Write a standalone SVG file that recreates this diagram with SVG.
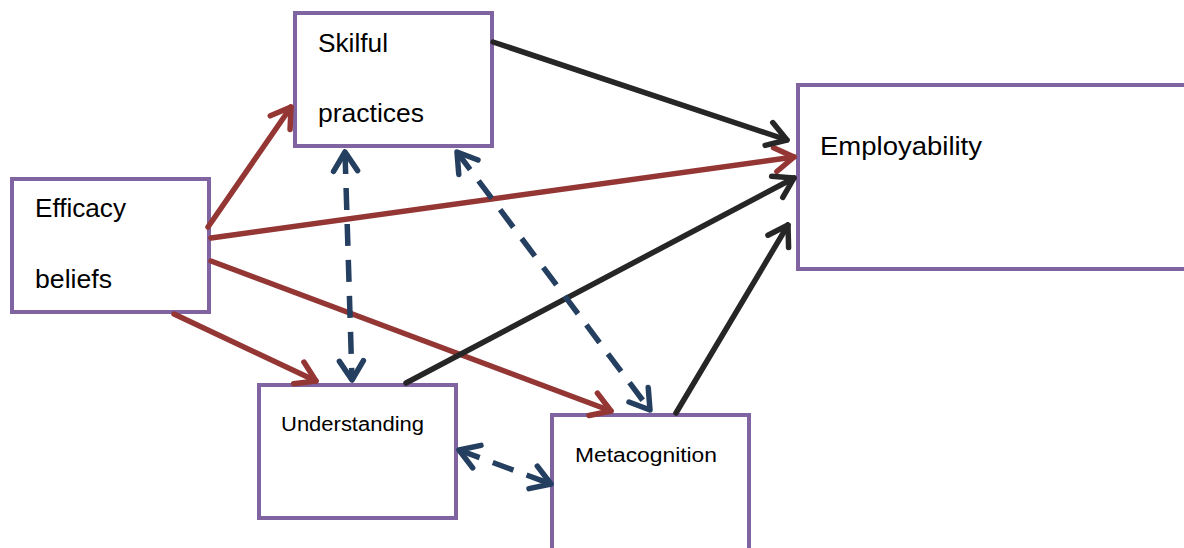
<svg xmlns="http://www.w3.org/2000/svg" width="1184" height="548" viewBox="0 0 1184 548">
  <style>
    .box { fill: #ffffff; stroke: #8064A2; stroke-width: 4; }
    .lbl { font-family: "Liberation Sans", "Open Sans", sans-serif; fill: #000000; }
    .big { font-size: 25px; }
    .small { font-size: 20px; }
    .red { stroke: #943634; stroke-width: 5.5; fill: none; stroke-linecap: round; marker-end: url(#hRed); }
    .blk { stroke: #262626; stroke-width: 5.5; fill: none; stroke-linecap: round; marker-end: url(#hBlk); }
    .blu { stroke: #243F60; stroke-width: 5.5; fill: none; stroke-dasharray: 22 14; marker-start: url(#hBlu); marker-end: url(#hBlu); }
  </style>
  <defs>
    <marker id="hRed" markerUnits="userSpaceOnUse" viewBox="-26 -18 32 36" refX="0" refY="0" markerWidth="32" markerHeight="36" orient="auto-start-reverse">
      <path d="M -19 -12 L 0 0 L -19 12" fill="none" stroke="#943634" stroke-width="5.5" stroke-linecap="round" stroke-linejoin="round"/>
    </marker>
    <marker id="hBlk" markerUnits="userSpaceOnUse" viewBox="-26 -18 32 36" refX="0" refY="0" markerWidth="32" markerHeight="36" orient="auto-start-reverse">
      <path d="M -19 -12 L 0 0 L -19 12" fill="none" stroke="#262626" stroke-width="5.5" stroke-linecap="round" stroke-linejoin="round"/>
    </marker>
    <marker id="hBlu" markerUnits="userSpaceOnUse" viewBox="-26 -18 32 36" refX="0" refY="0" markerWidth="32" markerHeight="36" orient="auto-start-reverse">
      <path d="M -19 -12 L 0 0 L -19 12" fill="none" stroke="#243F60" stroke-width="5.5" stroke-linecap="round" stroke-linejoin="round"/>
    </marker>
  </defs>

  <!-- nodes -->
  <g id="efficacy">
    <rect class="box" x="12" y="179" width="197" height="133"/>
    <text class="lbl big" x="35" y="217" textLength="91" lengthAdjust="spacingAndGlyphs">Efficacy</text>
    <text class="lbl big" x="35" y="288" textLength="77" lengthAdjust="spacingAndGlyphs">beliefs</text>
  </g>
  <g id="skilful">
    <rect class="box" x="295" y="13" width="197" height="133"/>
    <text class="lbl big" x="318" y="52" textLength="70" lengthAdjust="spacingAndGlyphs">Skilful</text>
    <text class="lbl big" x="318" y="122" textLength="106" lengthAdjust="spacingAndGlyphs">practices</text>
  </g>
  <g id="employability">
    <rect class="box" x="798" y="85" width="392" height="184"/>
    <text class="lbl big" x="820" y="155" textLength="162" lengthAdjust="spacingAndGlyphs">Employability</text>
  </g>
  <g id="understanding">
    <rect class="box" x="259" y="385" width="197" height="133"/>
    <text class="lbl small" x="281" y="431" textLength="143" lengthAdjust="spacingAndGlyphs">Understanding</text>
  </g>
  <g id="metacognition">
    <rect class="box" x="552" y="415" width="197" height="140"/>
    <text class="lbl small" x="575" y="462" textLength="142" lengthAdjust="spacingAndGlyphs">Metacognition</text>
  </g>

  <!-- connectors -->
  <g id="connectors">
    <line class="red" x1="208" y1="227" x2="291" y2="107"/>
    <line class="red" x1="211" y1="238" x2="794" y2="157"/>
    <line class="red" x1="211" y1="261" x2="611" y2="411"/>
    <line class="red" x1="174" y1="314" x2="316" y2="381"/>
    <line class="blk" x1="493" y1="42" x2="787" y2="140"/>
    <line class="blk" x1="406" y1="383" x2="794" y2="178"/>
    <line class="blk" x1="676" y1="413" x2="788" y2="225"/>
    <line class="blu" x1="345" y1="152" x2="352" y2="380"/>
    <line class="blu" x1="457" y1="152" x2="650" y2="410"/>
    <line class="blu" x1="459" y1="450" x2="551" y2="484"/>
  </g>
</svg>
